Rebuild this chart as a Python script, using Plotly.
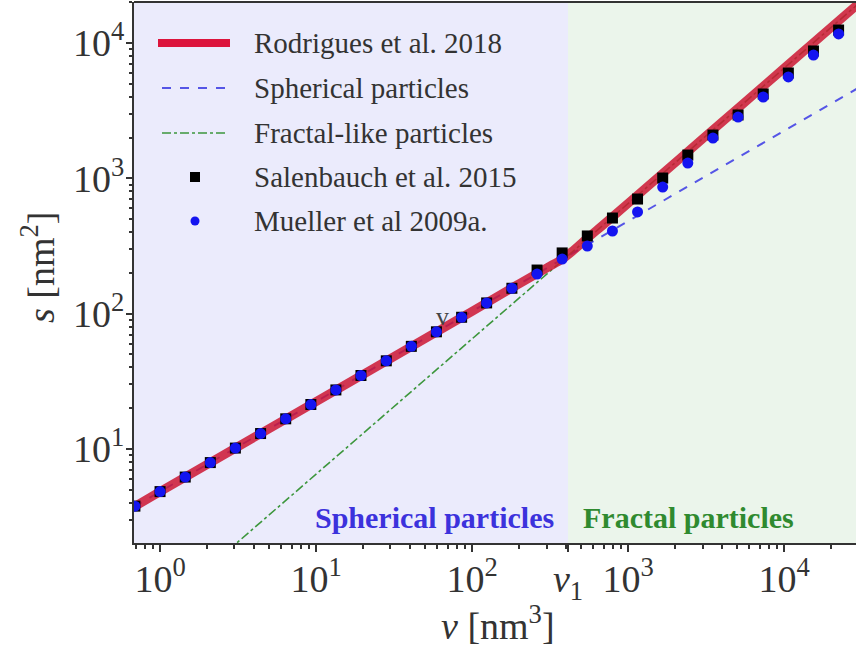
import math
import plotly.graph_objects as go

# ---------------- data ----------------
v_points = [0.69, 1.0, 1.45, 2.10, 3.04, 4.41, 6.39, 9.26, 13.4, 19.4, 28.2, 40.8, 59.1,
            85.7, 124, 180, 261, 378, 548, 794, 1150, 1667, 2415, 3500, 5072, 7350,
            10650, 15430, 22360]
s_mueller = [3.78, 4.84, 6.20, 7.93, 10.15, 13.0, 16.7, 21.3, 27.3, 34.9, 44.8, 57.3, 73.4,
             94.0, 120, 154, 196, 253, 316, 408, 564, 862, 1297, 1985, 2838, 3990,
             5610, 8150, 11660]
s_salenbauch = [3.78, 4.84, 6.20, 7.93, 10.15, 13.0, 16.7, 21.3, 27.3, 34.9, 44.8, 57.3, 73.4,
                94.0, 120, 154, 210, 281, 375, 509, 703, 1005, 1486, 2089, 2938, 4198,
                6000, 8730, 12470]

v_spherical = [0.68, 1, 10, 100, 1000, 10000, 29500]
s_spherical = [3.73, 4.84, 22.4, 104, 484, 2245, 4614]

v_fractal = [1, 10, 100, 1000, 10000, 30000]
s_fractal = [0.651, 6.51, 65.1, 651, 6510, 19530]

v_rodrigues = [0.68, 1, 10, 100, 200, 300, 380, 450, 550, 700, 1000, 3000, 10000, 30000]
s_rodrigues = [3.73, 4.84, 22.4, 104, 166, 217, 254, 296, 362, 458, 652, 1955, 6510, 19530]

v1 = 412
x_tick_vals = [1, 10, 100, v1, 1000, 10000]
x_tick_text = ["10<sup>0</sup>", "10<sup>1</sup>", "10<sup>2</sup>", "<i>v</i><sub>1</sub>",
               "10<sup>3</sup>", "10<sup>4</sup>"]
y_tick_vals = [10, 100, 1000, 10000]
y_tick_text = ["10<sup>1</sup>", "10<sup>2</sup>", "10<sup>3</sup>", "10<sup>4</sup>"]

legend_labels = ["Rodrigues et al. 2018", "Spherical particles", "Fractal-like particles",
                 "Salenbauch et al. 2015", "Mueller et al 2009a."]

# ---------------- layout geometry ----------------
W, H = 856, 655
L, R, T, B = 134, 0, 2, 112
x_range = [-0.167, 4.461]
y_range = [0.305, 4.303]
FONT = "Liberation Serif"
TXT = "#333333"
RED = "rgba(205,22,50,0.85)"


def px(xpix):
    return (xpix - L) / (W - L - R)


def py(ypix):
    return (H - B - ypix) / (H - T - B)


v1_paper = (math.log10(v1) - x_range[0]) / (x_range[1] - x_range[0])

fig = go.Figure()

fig.add_trace(go.Scatter(x=v_spherical, y=s_spherical, mode="lines",
                         line=dict(color="#5555e6", width=2, dash="dash"),
                         showlegend=False, hoverinfo="skip"))
fig.add_trace(go.Scatter(x=v_fractal, y=s_fractal, mode="lines",
                         line=dict(color="#3c963c", width=1.6, dash="dashdot"),
                         showlegend=False, hoverinfo="skip"))
fig.add_trace(go.Scatter(x=v_rodrigues, y=s_rodrigues, mode="lines",
                         line=dict(color=RED, width=9, shape="spline"),
                         showlegend=False))
fig.add_trace(go.Scatter(x=v_points, y=s_salenbauch, mode="markers",
                         marker=dict(symbol="square", size=11, color="black"),
                         showlegend=False))
fig.add_trace(go.Scatter(x=v_points, y=s_mueller, mode="markers",
                         marker=dict(symbol="circle", size=11, color="#1414f0"),
                         showlegend=False))

shapes = []
# background regions
shapes.append(dict(type="rect", xref="paper", yref="paper", x0=0, x1=v1_paper, y0=0, y1=1,
                   fillcolor="rgb(235,235,252)", line=dict(width=0), layer="below"))
shapes.append(dict(type="rect", xref="paper", yref="paper", x0=v1_paper, x1=1, y0=0, y1=1,
                   fillcolor="rgb(235,245,235)", line=dict(width=0), layer="below"))

# manual legend symbols
rows = [43, 88, 133, 177, 221]
shapes.append(dict(type="line", xref="paper", yref="paper", x0=px(158), x1=px(230),
                   y0=py(rows[0]), y1=py(rows[0]), line=dict(color="#dc143c", width=8)))
shapes.append(dict(type="line", xref="paper", yref="paper", x0=px(162), x1=px(228),
                   y0=py(rows[1]), y1=py(rows[1]), line=dict(color="#5555e6", width=2, dash="dash")))
shapes.append(dict(type="line", xref="paper", yref="paper", x0=px(162), x1=px(228),
                   y0=py(rows[2]), y1=py(rows[2]), line=dict(color="#3c963c", width=1.6, dash="dashdot")))
shapes.append(dict(type="rect", xref="paper", yref="paper", x0=px(190), x1=px(200),
                   y0=py(rows[3] + 5), y1=py(rows[3] - 5), fillcolor="black", line=dict(width=0)))
shapes.append(dict(type="circle", xref="paper", yref="paper", x0=px(190.5), x1=px(199.5),
                   y0=py(rows[4] + 4.5), y1=py(rows[4] - 4.5), fillcolor="#1414f0", line=dict(width=0)))
# top spine
shapes.append(dict(type="line", xref="paper", yref="paper", x0=0, x1=1, y0=1, y1=1,
                   line=dict(color=TXT, width=2)))

annotations = []
for r, lab in zip(rows, legend_labels):
    annotations.append(dict(xref="paper", yref="paper", x=px(252), y=py(r), text=lab,
                            showarrow=False, xanchor="left", yanchor="middle",
                            font=dict(family=FONT, size=29, color=TXT)))
annotations.append(dict(xref="paper", yref="paper", x=px(556), y=py(517),
                        text="<b>Spherical particles</b>", showarrow=False,
                        xanchor="right", yanchor="middle",
                        font=dict(family=FONT, size=30, color="#3c32dc")))
annotations.append(dict(xref="paper", yref="paper", x=px(581), y=py(517),
                        text="<b>Fractal particles</b>", showarrow=False,
                        xanchor="left", yanchor="middle",
                        font=dict(family=FONT, size=30, color="#2f8a2f")))
annotations.append(dict(xref="x", yref="y", x=math.log10(65), y=math.log10(95), text="v",
                        showarrow=False, font=dict(family=FONT, size=26, color="#444444")))
# axis titles
annotations.append(dict(xref="paper", yref="paper", x=px(498), y=py(623),
                        text="<i>v</i> [nm<sup>3</sup>]", showarrow=False,
                        xanchor="center", yanchor="middle",
                        font=dict(family=FONT, size=38, color=TXT)))
annotations.append(dict(xref="paper", yref="paper", x=px(38), y=py(268),
                        text="<i>s</i> [nm<sup>2</sup>]", showarrow=False, textangle=-90,
                        xanchor="center", yanchor="middle",
                        font=dict(family=FONT, size=38, color=TXT)))

x_minor = [m * 10 ** d for d in range(-1, 5) for m in range(2, 10)]
y_minor = [m * 10 ** d for d in range(0, 5) for m in range(2, 10)]

fig.update_layout(
    width=W, height=H,
    margin=dict(l=L, r=R, t=T, b=B, pad=0),
    paper_bgcolor="white", plot_bgcolor="white",
    shapes=shapes, annotations=annotations,
    showlegend=False,
    xaxis=dict(type="log", range=x_range, showgrid=False, zeroline=False,
               showline=True, linecolor=TXT, linewidth=2,
               tickmode="array", tickvals=x_tick_vals, ticktext=x_tick_text,
               ticks="outside", ticklen=7, tickwidth=1.5, tickcolor=TXT,
               ticklabelstandoff=-6,
               tickfont=dict(family=FONT, size=38, color=TXT),
               minor=dict(tickmode="array", tickvals=x_minor, ticks="outside",
                          ticklen=4, tickcolor=TXT, showgrid=False)),
    yaxis=dict(type="log", range=y_range, showgrid=False, zeroline=False,
               showline=True, linecolor=TXT, linewidth=2,
               tickmode="array", tickvals=y_tick_vals, ticktext=y_tick_text,
               ticks="outside", ticklen=6, tickwidth=1.5, tickcolor=TXT,
               ticklabelstandoff=-6,
               tickfont=dict(family=FONT, size=38, color=TXT),
               minor=dict(tickmode="array", tickvals=y_minor, ticks="outside",
                          ticklen=3, tickcolor=TXT, showgrid=False)),
)

fig.write_html("out.html", config={"displayModeBar": False},
               post_script="document.body.style.margin='0';document.body.style.overflow='hidden';")
